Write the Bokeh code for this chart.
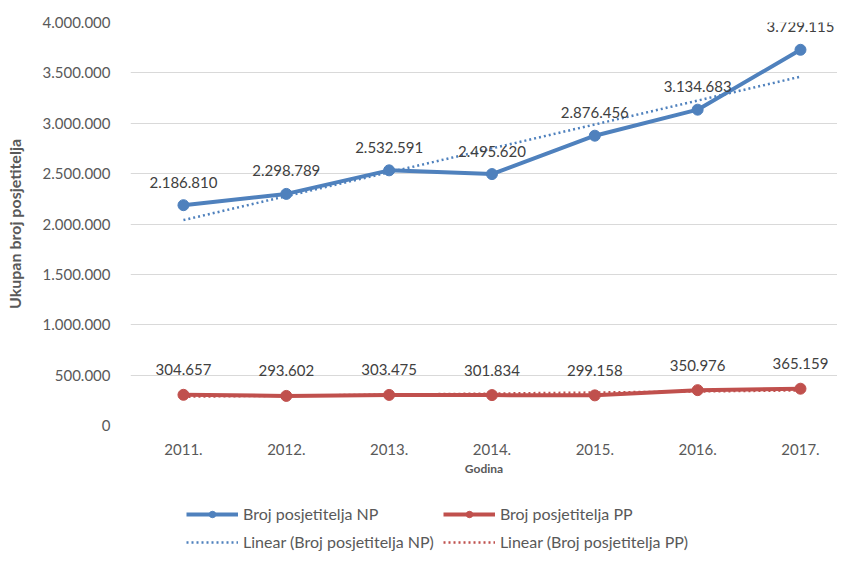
import numpy as np
from bokeh.plotting import figure
from bokeh.layouts import column
from bokeh.models import (ColumnDataSource, Range1d, FixedTicker, Legend, LegendItem)
from bokeh.core.properties import value
from bokeh.embed import file_html
from bokeh.resources import INLINE

years = ["2011.", "2012.", "2013.", "2014.", "2015.", "2016.", "2017."]
np_visitors = [2186810, 2298789, 2532591, 2495620, 2876456, 3134683, 3729115]
pp_visitors = [304657, 293602, 303475, 301834, 299158, 350976, 365159]
y_ticks = [0, 500000, 1000000, 1500000, 2000000, 2500000, 3000000, 3500000, 4000000]

FONT = "Lato"
BLUE = "#4F81BD"
RED = "#C0504D"
GRAY = "#595959"

def fmt(v):
    return f"{v:,}".replace(",", ".")

idx = list(range(len(years)))
fit_np = np.polyval(np.polyfit(idx, np_visitors, 1), idx)
fit_pp = np.polyval(np.polyfit(idx, pp_visitors, 1), idx)

src = ColumnDataSource(dict(
    x=idx, np_v=np_visitors, pp_v=pp_visitors,
    np_lbl=[fmt(v) for v in np_visitors], pp_lbl=[fmt(v) for v in pp_visitors],
    fit_np=fit_np, fit_pp=fit_pp,
))

p = figure(width=837, height=478, output_backend="svg", toolbar_location=None,
           x_range=Range1d(-0.515, 6.36), y_range=Range1d(0, 4000000),
           min_border_left=130, min_border_right=0, min_border_top=22, min_border_bottom=51)
p.outline_line_color = None
p.xgrid.grid_line_color = None
p.ygrid.grid_line_color = "#D9D9D9"
p.ygrid.grid_line_width = 1

p.yaxis.ticker = FixedTicker(ticks=y_ticks)
p.yaxis.major_label_overrides = {t: fmt(t) for t in y_ticks}
p.xaxis.ticker = FixedTicker(ticks=idx)
p.xaxis.major_label_overrides = {i: y for i, y in zip(idx, years)}
for ax in (p.xaxis[0], p.yaxis[0]):
    ax.axis_line_color = None
    ax.major_tick_line_color = None
    ax.minor_tick_line_color = None
    ax.major_label_text_font = FONT
    ax.major_label_text_font_size = "15px"
    ax.major_label_text_color = GRAY
    ax.axis_label_text_font = FONT
    ax.axis_label_text_font_style = "bold"
    ax.axis_label_text_color = GRAY
p.yaxis.major_label_standoff = 14
p.xaxis.major_label_standoff = 12
p.yaxis.axis_label = "Ukupan broj posjetitelja"
p.yaxis.axis_label_text_font_size = "16px"
p.yaxis.axis_label_standoff = 16
p.xaxis.axis_label = "Godina"
p.xaxis.axis_label_text_font_size = "12px"
p.xaxis.axis_label_standoff = 3

p.line("x", "fit_np", source=src, line_color=BLUE, line_width=2.5, line_dash="2 3")
p.line("x", "fit_pp", source=src, line_color=RED, line_width=2.5, line_dash="2 3")
p.line("x", "np_v", source=src, line_color=BLUE, line_width=4)
p.scatter("x", "np_v", source=src, size=11, fill_color=BLUE, line_color=BLUE)
p.line("x", "pp_v", source=src, line_color=RED, line_width=4)
p.scatter("x", "pp_v", source=src, size=11, fill_color=RED, line_color=RED)

p.text("x", "np_v", text="np_lbl", source=src, y_offset=-23, text_align="center",
       text_baseline="middle", text_font=value(FONT), text_font_size="15px", text_color="#404040")
p.text("x", "pp_v", text="pp_lbl", source=src, y_offset=-25, text_align="center",
       text_baseline="middle", text_font=value(FONT), text_font_size="15px", text_color="#404040")

# legend strip below the chart (its sample glyphs sit outside the visible range)
lg = figure(width=837, height=73, output_backend="svg", toolbar_location=None,
            x_range=Range1d(0, 1), y_range=Range1d(0, 1), min_border=0)
lg.outline_line_color = None
lg.axis.visible = False
lg.grid.visible = False
hidden = ColumnDataSource(dict(x=[-10, -9], y=[-10, -9]))
g_np = lg.line("x", "y", source=hidden, line_color=BLUE, line_width=4)
m_np = lg.scatter("x", "y", source=hidden, size=12, fill_color=BLUE, line_color=BLUE)
g_pp = lg.line("x", "y", source=hidden, line_color=RED, line_width=4)
m_pp = lg.scatter("x", "y", source=hidden, size=12, fill_color=RED, line_color=RED)
g_tnp = lg.line("x", "y", source=hidden, line_color=BLUE, line_width=2.5, line_dash="2 3")
g_tpp = lg.line("x", "y", source=hidden, line_color=RED, line_width=2.5, line_dash="2 3")

legend = Legend(items=[
    LegendItem(label="Broj posjetitelja NP", renderers=[g_np, m_np]),
    LegendItem(label="Broj posjetitelja PP", renderers=[g_pp, m_pp]),
    LegendItem(label="Linear (Broj posjetitelja NP)", renderers=[g_tnp]),
    LegendItem(label="Linear (Broj posjetitelja PP)", renderers=[g_tpp]),
], location=(56, 0), orientation="horizontal", ncols=2,
    glyph_width=52, glyph_height=16, label_height=18, label_standoff=5, spacing=9,
    padding=0, margin=0, border_line_color=None, background_fill_alpha=0,
    label_text_font=FONT, label_text_font_size="16px", label_text_color=GRAY)
lg.add_layout(legend)

open("out.html", "w").write(file_html(column(p, lg, spacing=0), INLINE))
